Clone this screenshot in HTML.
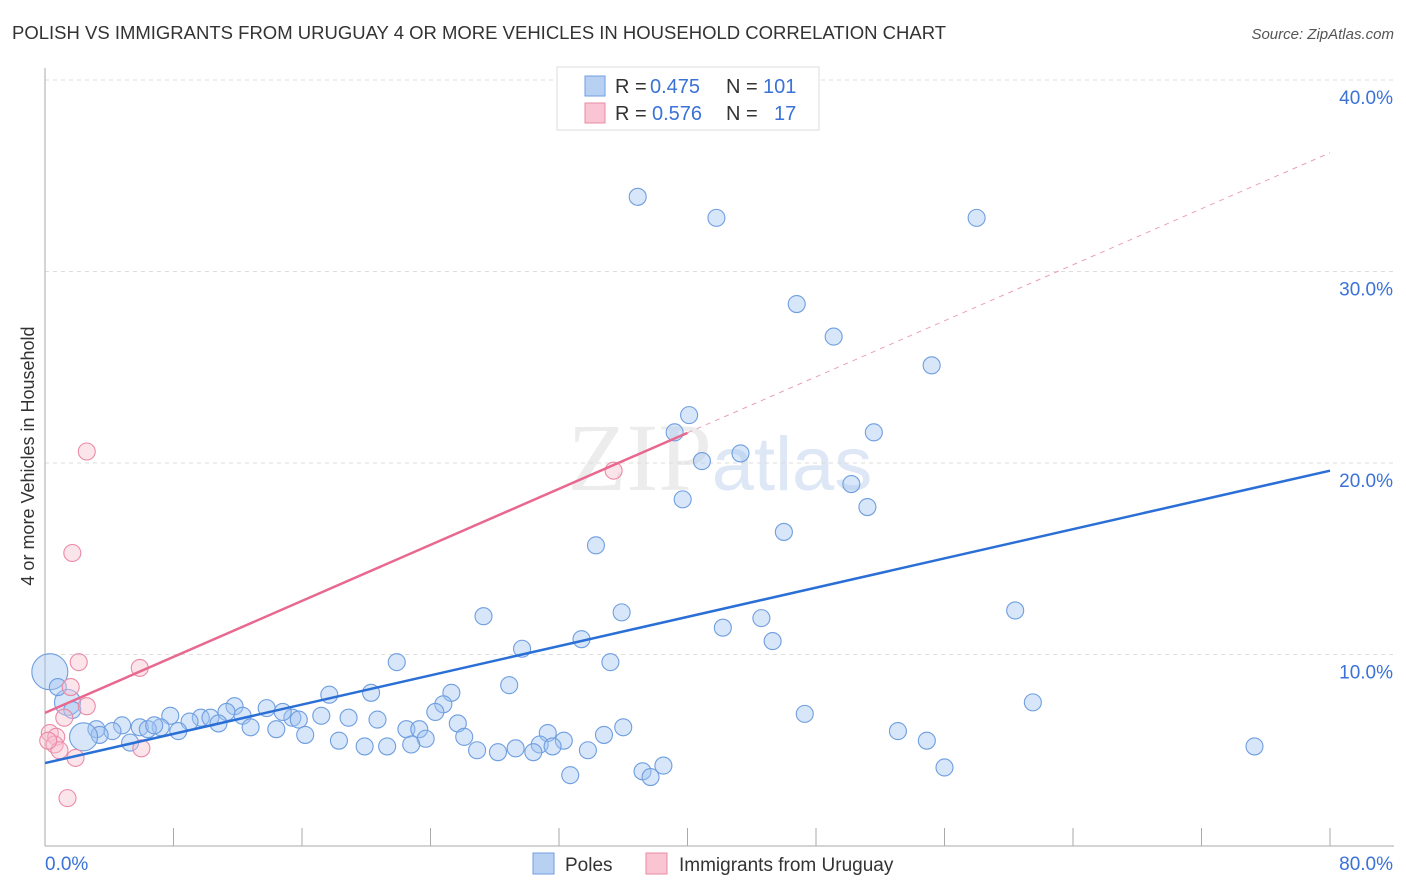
<!DOCTYPE html>
<html><head><meta charset="utf-8"><style>
body{margin:0;background:#fff;font-family:"Liberation Sans",sans-serif;}
svg{display:block}
</style></head><body>
<svg id="chart" width="1406" height="892" xmlns="http://www.w3.org/2000/svg">
<text x="12" y="39" font-size="18.5" fill="#333">POLISH VS IMMIGRANTS FROM URUGUAY 4 OR MORE VEHICLES IN HOUSEHOLD CORRELATION CHART</text>
<text x="1394" y="39" font-size="15" fill="#555" font-style="italic" text-anchor="end">Source: ZipAtlas.com</text>
<text x="34" y="456" font-size="18" fill="#333" text-anchor="middle" transform="rotate(-90 34 456)">4 or more Vehicles in Household</text>
<text x="720" y="490" font-size="96" fill="#ececec" text-anchor="middle" font-family="Liberation Serif,serif">ZIP<tspan fill="#dde7f5" font-family="Liberation Sans,sans-serif" font-size="76">atlas</tspan></text>
<g id="grid"></g><g id="axes"></g><g id="pts"></g><g id="lines"></g>
<g>
<rect x="557" y="67" width="262" height="63" fill="#fff" stroke="#ddd"/>
<rect x="585" y="76" width="20" height="20" fill="#b8d1f3" stroke="#6f9ee0"/>
<rect x="585" y="103" width="20" height="20" fill="#f9c5d3" stroke="#eb8aa6"/>
<g font-size="20" fill="#333">
<text x="615" y="93">R =</text><text x="650" y="93" fill="#3a72d8">0.475</text><text x="726" y="93">N =</text><text x="763" y="93" fill="#3a72d8">101</text>
<text x="615" y="120">R =</text><text x="652" y="120" fill="#3a72d8">0.576</text><text x="726" y="120">N =</text><text x="774" y="120" fill="#3a72d8">17</text>
</g>
</g>
<g>
<rect x="533" y="853" width="21" height="21" fill="#b8d1f3" stroke="#6f9ee0"/>
<text x="565" y="871" font-size="19" fill="#333">Poles</text>
<rect x="646" y="853" width="21" height="21" fill="#f9c5d3" stroke="#eb8aa6"/>
<text x="679" y="871" font-size="19" fill="#333">Immigrants from Uruguay</text>
</g>
</svg>
<script>
const yTicks=[10,20,30,40];
const xTickLabels=["0.0%","80.0%"];
const blueX=[36.9,41.8,58.0,46.8,49.1,55.2,40.1,39.2,51.6,43.3,40.9,50.2,39.7,51.2,46.0,34.3,27.3,35.9,60.4,44.6,42.2,33.4,45.3,29.7,35.2,21.9,28.9,20.3,25.3,17.7,61.5,24.8,11.8,24.3,47.3,13.8,17.2,15.4,14.8,11.3,7.8,9.7,10.3,12.3,18.9,20.7,25.7,9.0,10.8,7.2,12.8,15.8,14.4,8.3,16.2,4.8,5.9,6.4,4.2,3.2,3.4,6.8,36.0,31.3,22.5,23.3,53.1,26.1,34.8,18.3,23.7,19.9,21.3,22.8,5.3,54.9,32.3,30.8,31.6,29.3,26.9,28.2,30.4,33.8,75.3,38.5,56.0,37.2,37.7,32.7,2.4,1.4,0.3,0.8,1.7];
const blueY=[33.9,32.8,32.8,28.3,26.6,25.1,22.5,21.6,21.6,20.5,20.1,18.9,18.1,17.7,16.4,15.7,12.0,12.2,12.3,11.9,11.4,10.8,10.7,10.3,9.6,9.6,8.4,8.0,8.0,7.9,7.5,7.4,7.3,7.0,6.9,7.2,6.8,6.7,7.0,7.0,6.8,6.7,6.7,6.8,6.7,6.6,6.4,6.5,6.4,6.2,6.2,6.6,6.1,6.0,5.8,6.3,6.2,6.1,6.0,6.1,5.8,6.3,6.2,5.9,6.1,6.1,6.0,5.7,5.8,5.5,5.6,5.2,5.2,5.3,5.4,5.5,5.5,5.3,5.2,5.1,5.0,4.9,4.9,5.0,5.2,4.2,4.1,3.9,3.6,3.7,5.7,7.5,9.1,8.3,7.1];
const blueBig=[2.4,1.4,0.3];
const pinkX=[2.6,1.7,2.1,5.9,1.6,2.6,1.2,0.3,0.7,0.6,0.9,1.9,6.0,1.4,35.4,0.2];
const pinkY=[20.6,15.3,9.6,9.3,8.3,7.3,6.7,5.9,5.7,5.3,5.0,4.6,5.1,2.5,19.6,5.5];
const blueFit=[4.33,19.6];
const pinkFit=[6.95,36.2];
const NS="http://www.w3.org/2000/svg";
const X=v=>45+v/80*1285, Y=v=>846-v*19.15;
function mk(t,a,p){const e=document.createElementNS(NS,t);for(const k in a)e.setAttribute(k,a[k]);document.getElementById(p).appendChild(e);return e;}
yTicks.forEach(t=>{
 const g=mk('line',{x1:45,x2:1394,y1:Y(t),y2:Y(t),stroke:'#ddd','stroke-dasharray':'4 4'},'grid');
 
 
 const tx=mk('text',{x:1393,y:Y(t)+24,'font-size':19,fill:'#3a72d8','text-anchor':'end'},'grid');
 tx.textContent=t.toFixed(1)+'%';
 
 
});
mk('line',{x1:45,x2:45,y1:68,y2:846,stroke:'#aaa'},'axes');
mk('line',{x1:45,x2:1394,y1:846,y2:846,stroke:'#aaa'},'axes');
for(let i=1;i<=10;i++){const l=mk('line',{x1:X(i*8),x2:X(i*8),y1:828,y2:846,stroke:'#aaa'},'axes');
 
 }
[[0,45,'start'],[80,1393,'end']].forEach((d,i)=>{const t=mk('text',{x:d[1],y:870,'font-size':19,fill:'#3a72d8','text-anchor':d[2]},'axes');t.textContent=xTickLabels[i];
 
 });
blueX.forEach((x,i)=>{let r=8.5;const bi=blueBig.indexOf(x);if(i>=blueX.length-5&&bi>=0)r=[14,13,18][bi];
 const c=mk('circle',{cx:X(x),cy:Y(blueY[i]),r:r,fill:'rgba(160,196,240,0.42)',stroke:'#6f9ee0','stroke-width':1.1},'pts');
 
 });
pinkX.forEach((x,i)=>{const c=mk('circle',{cx:X(x),cy:Y(pinkY[i]),r:8.5,fill:'rgba(248,190,208,0.42)',stroke:'#eb8aa6','stroke-width':1.1},'pts');
 
 });
const bl=mk('line',{x1:X(0),y1:Y(blueFit[0]),x2:X(80),y2:Y(blueFit[1]),stroke:'#2a6fd6','stroke-width':2.5},'lines');


const pe=pinkFit[0]+(pinkFit[1]-pinkFit[0])*0.5;
const pl=mk('line',{x1:X(0),y1:Y(pinkFit[0]),x2:X(40),y2:Y(pe),stroke:'#e8688f','stroke-width':2.5},'lines');


const pd=mk('line',{x1:X(40),y1:Y(pe),x2:X(80),y2:Y(pinkFit[1]),stroke:'#eba0b6','stroke-width':1,'stroke-dasharray':'5 5'},'lines');


</script>
</body></html>
